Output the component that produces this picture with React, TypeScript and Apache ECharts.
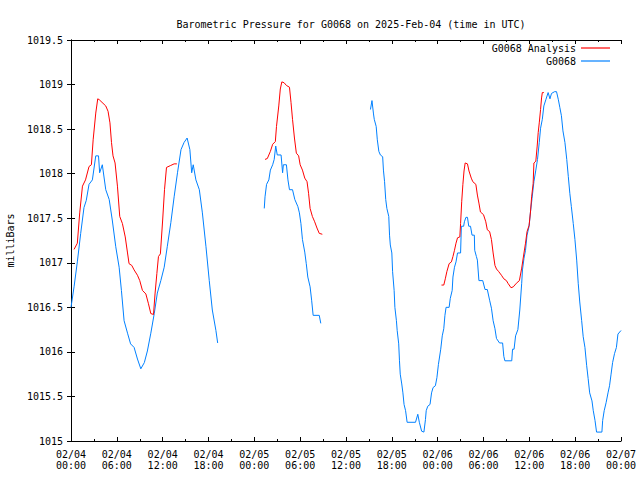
import React, { useEffect, useRef } from "react";
import * as echarts from "echarts";

const FONT = "'DejaVu Sans Mono', monospace";

const titleText = "Barometric Pressure for G0068 on 2025-Feb-04 (time in UTC)";
const yAxisName = "milliBars";
const analysisName = "G0068 Analysis";
const obsName = "G0068";

// hours since 2025-02-04 00:00 UTC; null pressure = gap in record
const obsHours = [
  0, 0.4, 0.83, 1.27, 1.7, 2.0, 2.36, 2.8, 3.24, 3.6, 3.75, 4.1, 4.55, 5.0, 5.4, 5.86, 6.3, 6.6, 6.95, 7.4,
  7.8, 8.26, 8.7, 9.14, 9.6, 10.0, 10.45, 10.9, 11.3, 11.76, 12.2, 12.6, 13.07, 13.5, 13.94, 14.4, 14.8,
  15.2, 15.56, 15.8, 16.0, 16.35, 16.8, 17.2, 17.67, 18.1, 18.5, 18.97, 19.2,
  22,
  25.3, 25.4, 25.6, 25.9, 26.1, 26.4, 26.6, 26.8, 27.0, 27.5, 27.7, 27.8, 28.2, 28.4, 28.6, 29.0, 29.3,
  29.7, 29.9, 30.1, 30.3, 30.6, 30.8, 31.0, 31.3, 31.5, 31.7, 32.5, 32.7,
  36,
  39.2, 39.4, 39.6, 39.7, 39.95, 40.1, 40.3, 40.5, 40.8, 40.9, 41.05, 41.2, 41.35, 41.6, 41.7, 41.8, 42.0,
  42.1, 42.3, 42.4, 42.6, 42.7, 42.9, 43.0, 43.1, 43.3, 43.45, 43.6, 43.8, 44.0, 45.1, 45.4, 45.6, 45.9,
  46.2, 46.4, 46.5, 46.7, 47.0, 47.2, 47.4, 47.7, 47.9, 48.1, 48.4, 48.6, 48.8, 48.95, 49.1, 49.5, 49.65,
  49.9, 50.0, 50.2, 50.4, 50.6, 51.0, 51.1, 51.4, 51.5, 51.7, 51.9, 52.07, 52.3, 52.5, 52.8, 52.85, 53.07,
  53.2, 53.4, 53.9, 54.2, 54.5, 54.8, 55.04, 55.26, 55.5, 55.7, 56.1, 56.5, 56.66, 56.8, 57.7, 57.8, 58.0,
  58.2, 58.5, 58.75, 59.0, 59.1, 59.3, 59.5, 59.7, 59.97, 60.15, 60.35, 60.6, 60.85, 61.07, 61.3, 61.47,
  61.7, 61.9, 62.16, 62.46, 62.7, 62.9, 63.3, 63.56, 63.8, 64.0, 64.2, 64.4, 64.66, 64.9, 65.1, 65.3, 65.5,
  65.75, 65.97, 66.2, 66.4, 66.6, 66.85, 67.05, 67.28, 67.5, 67.7, 67.9, 68.2, 68.37, 68.6, 68.8, 69.5,
  69.6, 69.8, 70.05, 70.3, 70.5, 70.7, 70.9, 71.15, 71.4, 71.6, 72.0,
];
const obsPressure = [
  1016.5, 1016.73, 1017.01, 1017.33, 1017.62, 1017.7, 1017.88, 1017.93, 1018.2, 1018.2, 1018.01, 1018.1,
  1017.82, 1017.71, 1017.48, 1017.18, 1016.95, 1016.69, 1016.35, 1016.21, 1016.09, 1016.05, 1015.92,
  1015.81, 1015.88, 1016.01, 1016.21, 1016.43, 1016.66, 1016.8, 1016.95, 1017.18, 1017.45, 1017.74,
  1018.01, 1018.27, 1018.35, 1018.4, 1018.27, 1018.01, 1018.1, 1017.93, 1017.82, 1017.56, 1017.18,
  1016.8, 1016.47, 1016.24, 1016.1,
  null,
  1017.61, 1017.74, 1017.88, 1017.93, 1018.04, 1018.1, 1018.16, 1018.31, 1018.21, 1018.21, 1018.01,
  1018.1, 1018.1, 1017.93, 1017.82, 1017.82, 1017.71, 1017.63, 1017.56, 1017.44, 1017.26, 1017.12,
  1016.99, 1016.84, 1016.73, 1016.58, 1016.41, 1016.41, 1016.32,
  null,
  1018.72, 1018.82, 1018.67, 1018.61, 1018.53, 1018.38, 1018.25, 1018.21, 1018.19, 1018.04, 1017.91,
  1017.71, 1017.61, 1017.52, 1017.31, 1017.2, 1017.11, 1016.9, 1016.69, 1016.5, 1016.35, 1016.24,
  1016.09, 1015.9, 1015.75, 1015.64, 1015.54, 1015.41, 1015.34, 1015.21, 1015.21, 1015.3, 1015.21,
  1015.11, 1015.1, 1015.24, 1015.34, 1015.39, 1015.41, 1015.54, 1015.6, 1015.62, 1015.71, 1015.86,
  1016.03, 1016.18, 1016.26, 1016.41, 1016.5, 1016.5, 1016.6, 1016.69, 1016.84, 1016.95, 1017.01,
  1017.11, 1017.11, 1017.41, 1017.41, 1017.46, 1017.51, 1017.51, 1017.41, 1017.41, 1017.31, 1017.31,
  1017.14, 1017.07, 1017.03, 1016.8, 1016.8, 1016.7, 1016.7, 1016.58, 1016.49, 1016.35, 1016.26,
  1016.15, 1016.1, 1016.1, 1015.95, 1015.9, 1015.9, 1016.03, 1016.03, 1016.18, 1016.25, 1016.47,
  1016.77, 1016.92, 1017.05, 1017.14, 1017.31, 1017.41, 1017.57, 1017.72, 1017.91, 1018.04, 1018.16,
  1018.35, 1018.51, 1018.61, 1018.76, 1018.83, 1018.91, 1018.84, 1018.9, 1018.92, 1018.92, 1018.83,
  1018.74, 1018.65, 1018.48, 1018.35, 1018.16, 1017.97, 1017.78, 1017.63, 1017.44, 1017.26, 1017.03,
  1016.77, 1016.56, 1016.35, 1016.17, 1016.05, 1015.85, 1015.7, 1015.54, 1015.45, 1015.34, 1015.23,
  1015.1, 1015.1, 1015.23, 1015.34, 1015.43, 1015.54, 1015.62, 1015.75, 1015.88, 1015.98, 1016.05,
  1016.2, 1016.24,
];

const analysisHours = [
  0.4, 0.83, 1.14, 1.5, 1.9, 2.36, 2.67, 2.9, 3.24, 3.5, 3.7, 4.55, 4.85, 5.1, 5.3, 5.5, 5.77, 6.08, 6.38,
  6.73, 7.1, 7.4, 7.6, 7.96, 8.26, 8.7, 9.0, 9.35, 9.8, 10.14, 10.45, 10.8, 11.0, 11.24, 11.45, 11.7, 12.0,
  12.24, 12.5, 13.0, 13.5, 13.86,
  20,
  25.4, 25.7, 26.1, 26.4, 26.75, 26.9, 27.2, 27.4, 27.6, 27.9, 28.2, 28.6, 28.8, 29.0, 29.25, 29.5, 29.8,
  30.0, 30.3, 30.6, 30.9, 31.1, 31.3, 31.6, 31.9, 32.2, 32.5, 32.9,
  40,
  48.5, 48.8, 49.0, 49.2, 49.5, 49.8, 50.0, 50.2, 50.4, 50.6, 50.9, 51.0, 51.15, 51.3, 51.45, 51.6, 51.9,
  52.1, 52.4, 52.6, 53.0, 53.2, 53.4, 53.6, 54.0, 54.3, 54.5, 54.8, 55.04, 55.26, 55.5, 55.7, 56.0, 56.35,
  56.66, 57.0, 57.2, 57.6, 57.9, 58.3, 58.7, 59.0, 59.3, 59.5, 59.7, 59.97, 60.15, 60.3, 60.5, 60.6, 60.85,
  61.03, 61.16, 61.3, 61.47, 61.6, 61.7, 61.9,
];
const analysisPressure = [
  1017.15, 1017.22, 1017.56, 1017.86, 1017.93, 1018.08, 1018.1, 1018.38, 1018.68, 1018.84, 1018.83,
  1018.76, 1018.7, 1018.57, 1018.35, 1018.2, 1018.12, 1017.86, 1017.52, 1017.44, 1017.29, 1017.11,
  1016.99, 1016.97, 1016.92, 1016.86, 1016.8, 1016.69, 1016.65, 1016.54, 1016.43, 1016.42, 1016.65,
  1016.88, 1017.07, 1017.1, 1017.48, 1017.82, 1018.07, 1018.09, 1018.11, 1018.11,
  null,
  1018.16, 1018.17, 1018.25, 1018.33, 1018.36, 1018.53, 1018.76, 1018.95, 1019.03, 1019.02, 1018.99,
  1018.97, 1018.8, 1018.61, 1018.4, 1018.23, 1018.2, 1018.1, 1018.04, 1017.95, 1017.91, 1017.78,
  1017.61, 1017.52, 1017.46, 1017.39, 1017.33, 1017.32,
  null,
  1016.75, 1016.75, 1016.82, 1016.9, 1016.99, 1017.01, 1017.07, 1017.14, 1017.22, 1017.28, 1017.29,
  1017.44, 1017.69, 1017.88, 1018.03, 1018.12, 1018.11, 1018.03, 1017.95, 1017.91, 1017.88, 1017.76,
  1017.67, 1017.57, 1017.54, 1017.46, 1017.37, 1017.35, 1017.26, 1017.11, 1016.97, 1016.93, 1016.9,
  1016.86, 1016.82, 1016.8, 1016.77, 1016.72, 1016.73, 1016.77, 1016.8, 1016.94, 1017.11, 1017.22,
  1017.35, 1017.42, 1017.57, 1017.74, 1017.89, 1018.12, 1018.14, 1018.31, 1018.46, 1018.57, 1018.72,
  1018.85, 1018.91, 1018.91,
];

const xMin = 0;
const xMax = 72;
const xStep = 6;
const yMin = 1015;
const yMax = 1019.5;
const yStep = 0.5;

function pair(hours: number[], vals: (number | null)[]) {
  return hours.map((h, i) => [h, vals[i] === null ? "-" : vals[i]]);
}

function hourLabel(h: number) {
  const day = 4 + Math.floor(h / 24);
  const hh = Math.round(h % 24);
  const p = (n: number) => (n < 10 ? "0" + n : "" + n);
  return "02/" + p(day) + "\n" + p(hh) + ":00";
}

export default function App() {
  const ref = useRef<HTMLDivElement>(null);
  useEffect(() => {
    const chart = echarts.init(ref.current!, null, { renderer: "svg" });
    const axisLine = { show: true, lineStyle: { color: "#000", width: 1 } };
    const tick = { show: true, inside: true, length: 4, lineStyle: { color: "#000" } };
    const minor = { show: true, splitNumber: 2, length: 2, lineStyle: { color: "#000" } };
    const legendBase = {
      right: 30,
      padding: 0,
      align: "right",
      icon: "rect",
      itemWidth: 29,
      itemHeight: 1.2,
      textStyle: { fontFamily: FONT, fontSize: 10, color: "#000" },
    };
    chart.setOption({
      animation: false,
      backgroundColor: "#fff",
      textStyle: { fontFamily: FONT },
      title: {
        text: titleText,
        left: 346,
        textAlign: "center",
        top: 14,
        textStyle: { fontFamily: FONT, fontSize: 10, fontWeight: "normal", color: "#000" },
      },
      legend: [
        { ...legendBase, data: [analysisName], top: 43 },
        { ...legendBase, data: [obsName], top: 56 },
      ],
      grid: {
        left: 71,
        right: 19,
        top: 40,
        bottom: 39,
        containLabel: false,
        outerBoundsMode: "none",
      },
      xAxis: [
        {
          type: "value",
          min: xMin,
          max: xMax,
          interval: xStep,
          position: "bottom",
          axisLine,
          axisTick: tick,
          minorTick: minor,
          splitLine: { show: false },
          axisLabel: {
            formatter: (v: number) => hourLabel(v),
            fontFamily: FONT,
            fontSize: 10,
            lineHeight: 11,
            color: "#000",
            margin: 8,
          },
        },
        {
          type: "value",
          min: xMin,
          max: xMax,
          interval: xStep,
          position: "top",
          axisLine,
          axisTick: tick,
          minorTick: minor,
          splitLine: { show: false },
          axisLabel: { show: false },
        },
      ],
      yAxis: [
        {
          type: "value",
          min: yMin,
          max: yMax,
          interval: yStep,
          position: "left",
          name: yAxisName,
          nameLocation: "middle",
          nameRotate: 90,
          nameGap: 54,
          nameTextStyle: { fontFamily: FONT, fontSize: 10, color: "#000" },
          axisLine,
          axisTick: tick,
          splitLine: { show: false },
          axisLabel: {
            fontFamily: FONT,
            fontSize: 10,
            color: "#000",
            margin: 8,
            formatter: (v: number) => String(v),
          },
        },
        {
          type: "value",
          min: yMin,
          max: yMax,
          interval: yStep,
          position: "right",
          axisLine,
          axisTick: tick,
          splitLine: { show: false },
          axisLabel: { show: false },
        },
      ],
      series: [
        {
          name: analysisName,
          type: "line",
          xAxisIndex: 0,
          yAxisIndex: 0,
          symbol: "none",
          connectNulls: false,
          color: "#ff0000",
          lineStyle: { color: "#ff0000", width: 1 },
          data: pair(analysisHours, analysisPressure),
          z: 3,
        },
        {
          name: obsName,
          type: "line",
          xAxisIndex: 0,
          yAxisIndex: 0,
          symbol: "none",
          connectNulls: false,
          color: "#0080ff",
          lineStyle: { color: "#0080ff", width: 1 },
          data: pair(obsHours, obsPressure),
          z: 2,
        },
      ],
    });
    return () => chart.dispose();
  }, []);
  return (
    <div
      ref={ref}
      style={{ position: "fixed", left: 0, top: 0, width: 640, height: 480 }}
    />
  );
}
